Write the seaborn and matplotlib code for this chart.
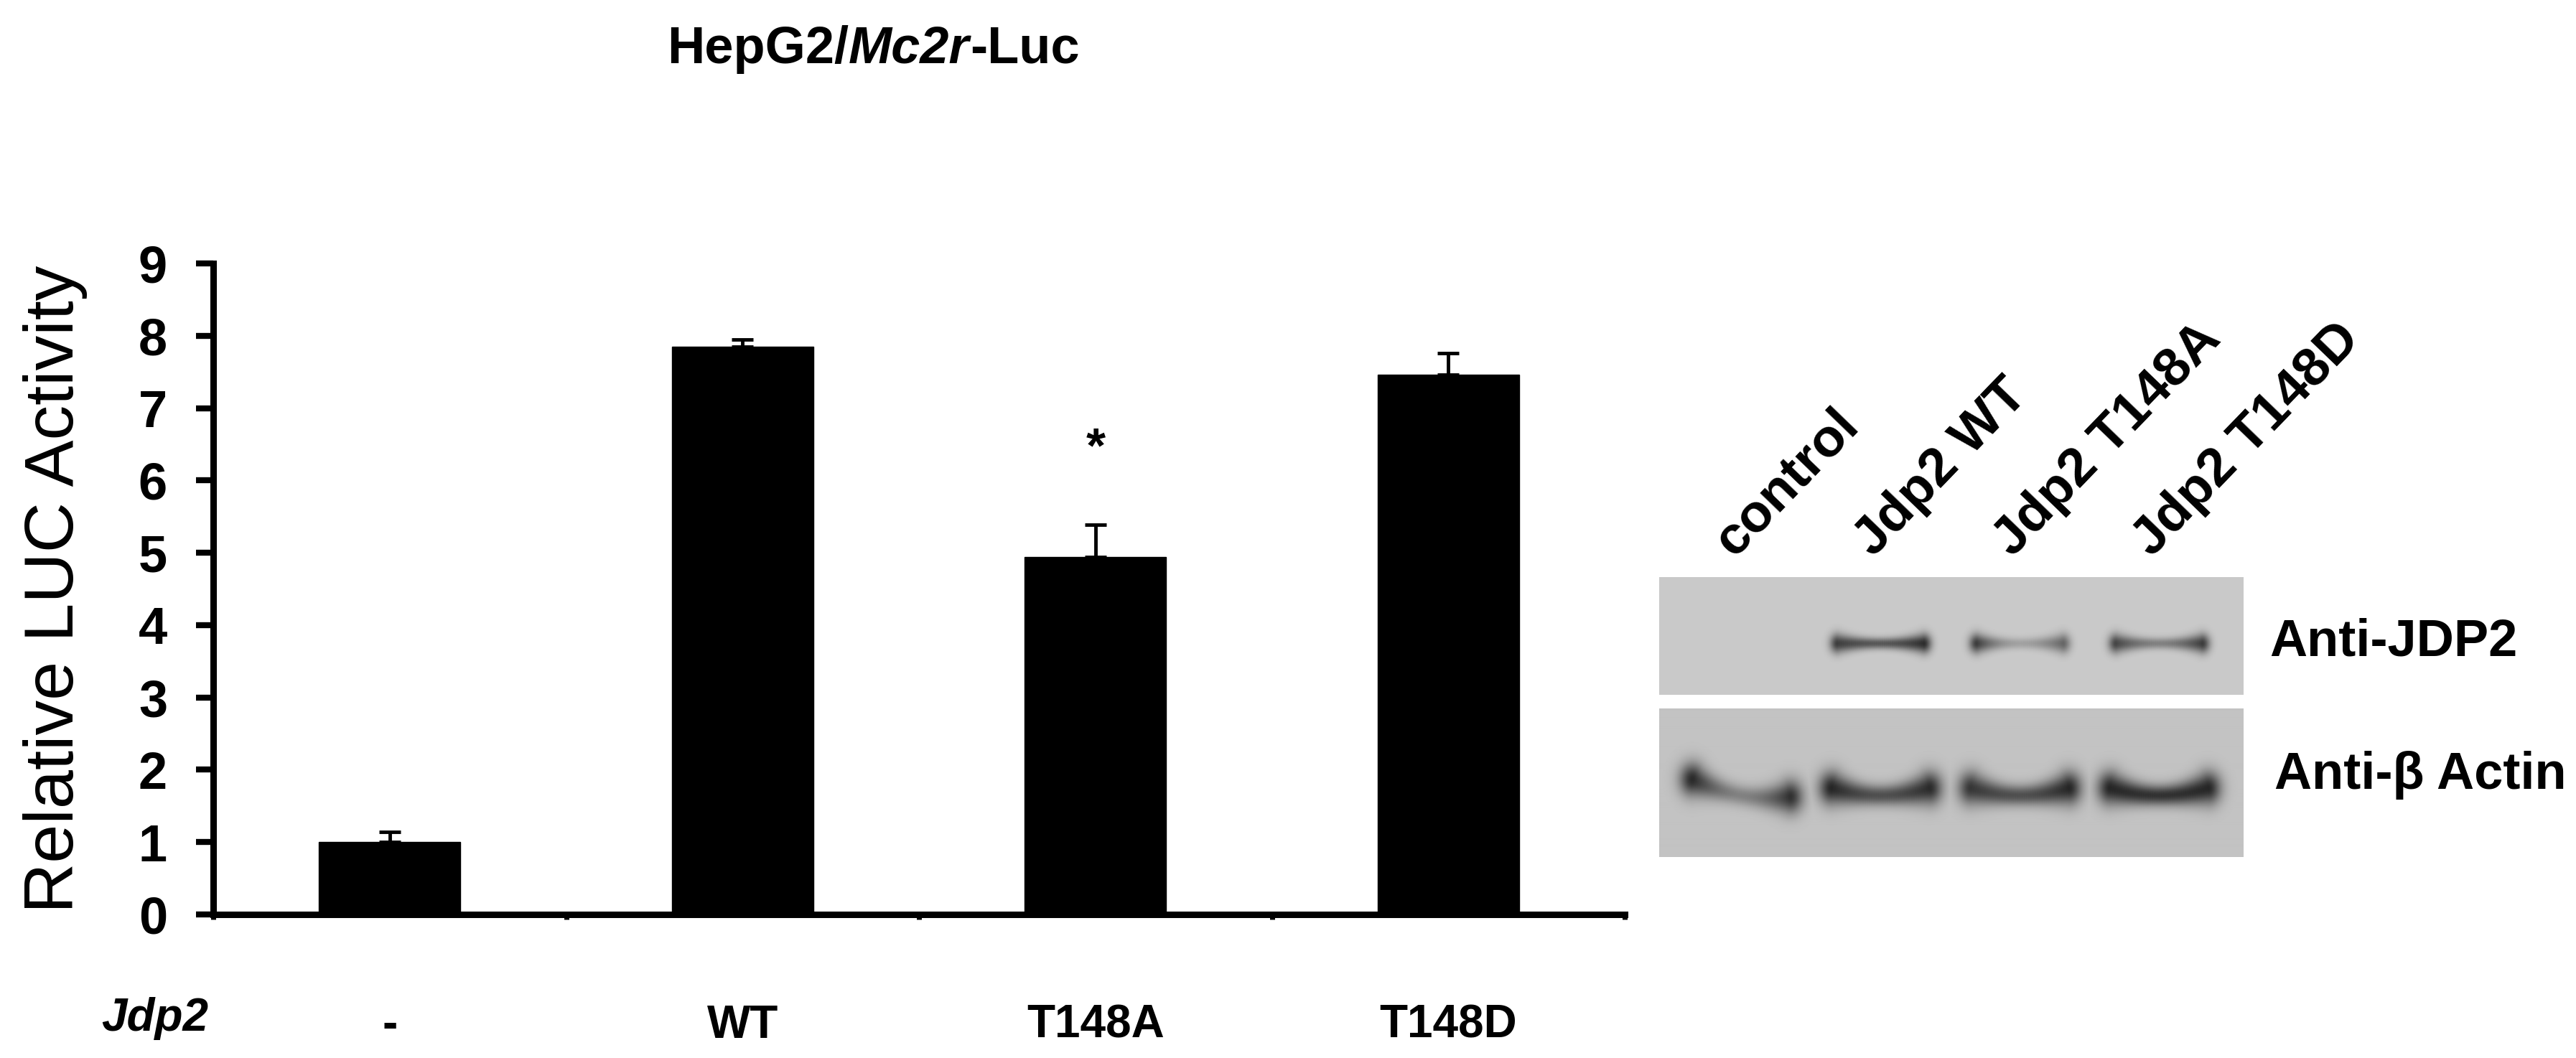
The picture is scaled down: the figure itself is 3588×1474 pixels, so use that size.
import numpy as np
import pandas as pd
import seaborn as sns
import matplotlib.pyplot as plt

# luciferase assay (bar chart)
groups = ['-', 'WT', 'T148A', 'T148D']
luc_mean = [1.0, 7.85, 4.94, 7.46]
luc_err = [0.14, 0.10, 0.45, 0.30]
y_ticks = [0, 1, 2, 3, 4, 5, 6, 7, 8, 9]

# western blot lanes and band strength (0 = none, 1 = darkest)
lanes = ['control', 'Jdp2 WT', 'Jdp2 T148A', 'Jdp2 T148D']
jdp2_left = [0.0, 0.85, 0.85, 0.80]
jdp2_mid = [0.0, 0.70, 0.25, 0.45]
jdp2_right = [0.0, 0.95, 0.60, 0.85]
actin_left = [0.92, 0.95, 0.85, 0.95]
actin_mid = [0.40, 0.70, 0.70, 0.88]
actin_right = [0.88, 0.92, 0.95, 0.95]
actin_tilt = [12, 0, 0, 0]

sns.set_style('ticks', {'text.color': 'black', 'axes.labelcolor': 'black',
                        'xtick.color': 'black', 'ytick.color': 'black',
                        'axes.edgecolor': 'black'})
plt.rcParams['font.family'] = ['Liberation Sans', 'DejaVu Sans']

W, H = 3588, 1474
fig = plt.figure(figsize=(W / 100, H / 100), dpi=100)


def rect(x0, y0, x1, y1):
    return [x0 / W, 1 - y1 / H, (x1 - x0) / W, (y1 - y0) / H]


# ---- bar chart ----
ax = fig.add_axes(rect(297, 367, 2263, 1274))
df = pd.DataFrame({'group': groups, 'luc': luc_mean})
sns.barplot(data=df, x='group', y='luc', color='black', saturation=1,
            width=0.4, edgecolor='black', linewidth=1, ax=ax)
ax.errorbar(range(len(groups)), luc_mean, yerr=[np.zeros(len(groups)), luc_err],
            fmt='none', ecolor='black', elinewidth=3.5, capsize=11, capthick=3.5)

ax.set_xlim(-0.5, 3.5)
ax.set_ylim(0, 9)
sns.despine(ax=ax)
for s in ['left', 'bottom']:
    ax.spines[s].set_linewidth(6.5)

ax.set_yticks(y_ticks)
ax.set_yticklabels(y_ticks, fontweight='bold', fontsize=52)
ax.tick_params(axis='y', length=17, width=6, pad=29)

ax.set_xticks(range(len(groups)))
ax.set_xticklabels(groups, fontweight='bold', fontsize=46)
ax.tick_params(axis='x', which='major', length=0, pad=90)
ax.set_xticks(np.arange(-0.5, len(groups), 1.0), minor=True)
ax.tick_params(axis='x', which='minor', length=5, width=5)

ax.set_xlabel('')
ax.set_ylabel('Relative LUC Activity', fontsize=70)
ax.yaxis.set_label_coords(-0.089, 0.5)

ax.text(-0.665, -0.16, 'Jdp2', transform=ax.get_xaxis_transform(),
        ha='center', va='center', fontsize=46, fontweight='bold', style='italic')

# significance mark over T148A
ax.text(2, luc_mean[2] + luc_err[2] + 1.05, '*', ha='center', va='center',
        fontsize=50, fontweight='bold')

# title with italic gene name
t1 = fig.text(929 / W, 1 - 88 / H, 'HepG2/', fontsize=52, fontweight='bold', va='baseline')
t2 = ax.annotate('Mc2r', xy=(1, 0), xycoords=t1, va='bottom', fontsize=52,
                 fontweight='bold', style='italic')
ax.annotate('-Luc', xy=(1, 0), xycoords=t2, va='bottom', fontsize=52, fontweight='bold')


# ---- western blot ----
def blot(h, w, base, cy, left, mid, right, half, sig_end, sig_mid, curve, tilt):
    yy, xx = np.mgrid[0:h, 0:w].astype(float)
    dark = np.zeros((h, w))
    for i in range(len(lanes)):
        cx = 114 + 194 * i
        for t in np.linspace(-1, 1, 45):
            end = left[i] if t < 0 else right[i]
            a = mid[i] + (end - mid[i]) * abs(t) ** 2
            if a <= 0:
                continue
            s = sig_mid + (sig_end - sig_mid) * abs(t) ** 2
            px = cx + t * half
            py = cy - curve * t ** 2 + tilt[i] * t
            g = a * np.exp(-((xx - px) ** 2 / (2 * (0.8 * s) ** 2) + (yy - py) ** 2 / (2 * s ** 2)))
            dark = np.maximum(dark, g)
    return base - 165 * dark


up = blot(164, 814, 202, 92, jdp2_left, jdp2_mid, jdp2_right, 60, 9.5, 5.5, 0, [0, 0, 0, 0])
low = blot(206, 814, 195, 120, actin_left, actin_mid, actin_right, 68, 16, 10, 10, actin_tilt)

bx = fig.add_axes(rect(2311, 804, 3125, 1194))
bx.imshow(up, cmap='gray', vmin=0, vmax=255, extent=(0, 814, 164, 0),
          aspect='auto', interpolation='bilinear')
bx.imshow(low, cmap='gray', vmin=0, vmax=255, extent=(0, 814, 390, 184),
          aspect='auto', interpolation='bilinear')
bx.set_xlim(0, 814)
bx.set_ylim(390, 0)
bx.axis('off')

for i, name in enumerate(lanes):
    bx.text(114 + 194 * i - 10, -26, name, rotation=46, rotation_mode='anchor',
            ha='left', va='baseline', fontsize=54, fontweight='bold')

bx.text(850, 91, 'Anti-JDP2', ha='left', va='center', fontsize=52, fontweight='bold')
bx.text(857, 276, 'Anti-\u03b2 Actin', ha='left', va='center', fontsize=52, fontweight='bold')

fig.savefig('out.png', dpi=100)
